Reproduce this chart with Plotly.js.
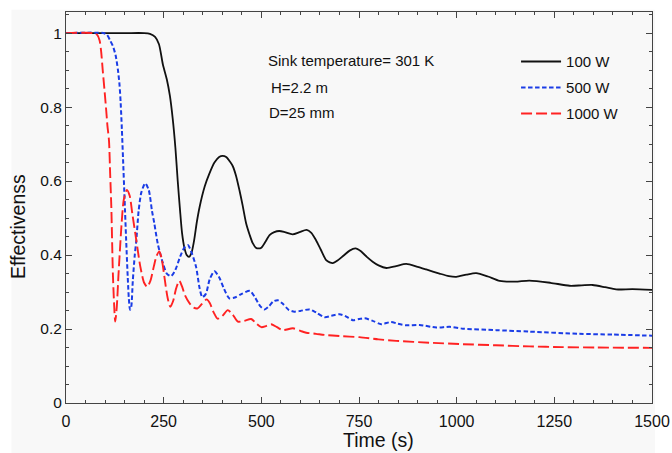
<!DOCTYPE html>
<html>
<head>
<meta charset="utf-8">
<script src="https://cdn.plot.ly/plotly-3.0.1.min.js"></script>
<style>html,body{margin:0;padding:0;background:#fff;}#chart{width:672px;height:453px;}</style>
</head>
<body>
<div id="chart"></div>
<script>
// Series names
const seriesNames = ["100 W", "500 W", "1000 W"];

// 100 W (black, solid)
const t100 = [0,150,200,215,228,238,248,258,266,273,280,286,292,297,303,309,315,321,328,335,342,355,367,380,392,401,410,420,427,435,444,452,461,470,478,486,493,500,510,521,533,546,560,580,598,616,628,640,652,666,675,683,695,710,726,741,755,770,785,800,820,845,871,900,922,956,980,999,1025,1050,1080,1110,1150,1186,1240,1289,1320,1348,1380,1408,1450,1500];
const e100 = [1,1,1,0.998,0.99,0.97,0.915,0.875,0.83,0.77,0.69,0.6,0.52,0.46,0.42,0.4,0.395,0.405,0.44,0.49,0.53,0.585,0.62,0.65,0.665,0.668,0.665,0.652,0.64,0.615,0.575,0.535,0.486,0.455,0.432,0.42,0.418,0.42,0.435,0.454,0.462,0.465,0.462,0.456,0.462,0.468,0.46,0.44,0.415,0.386,0.38,0.378,0.385,0.398,0.412,0.418,0.41,0.395,0.382,0.372,0.365,0.37,0.376,0.368,0.361,0.35,0.343,0.341,0.347,0.351,0.342,0.33,0.328,0.331,0.325,0.317,0.318,0.319,0.313,0.307,0.308,0.306];

// 500 W (blue, short dash)
const t500 = [0,95,105,113,120,127,133,137,140,143,146,150,154,158,161,164,167,171,176,180,186,193,203,212,220,226,235,248,258,269,280,292,303,312,322,333,342,349,358,368,380,392,404,418,432,450,471,484,497,508,520,530,542,555,570,585,600,623,640,662,680,700,715,734,750,765,785,807,832,850,871,905,948,982,1016,1101,1186,1314,1400,1500];
const e500 = [1,1,0.995,0.98,0.965,0.94,0.9,0.86,0.81,0.74,0.66,0.55,0.44,0.34,0.28,0.252,0.26,0.33,0.4,0.44,0.52,0.57,0.594,0.575,0.52,0.486,0.43,0.378,0.35,0.343,0.36,0.395,0.42,0.427,0.405,0.368,0.31,0.286,0.295,0.335,0.356,0.34,0.31,0.283,0.285,0.295,0.303,0.285,0.262,0.253,0.262,0.274,0.278,0.268,0.252,0.247,0.249,0.253,0.245,0.232,0.236,0.24,0.235,0.224,0.227,0.229,0.222,0.213,0.219,0.214,0.21,0.211,0.204,0.206,0.201,0.197,0.193,0.187,0.185,0.182];

// 1000 W (red, long dash)
const t1000 = [0,70,80,86,90,94,99,103,106,110,113,116,120,123,126,130,134,137,142,148,156,163,170,180,190,200,208,216,225,232,239,245,252,260,267,274,282,290,297,305,316,327,337,348,360,368,378,388,400,414,426,440,456,474,487,500,512,525,540,555,581,600,615,640,662,700,751,800,845,930,1016,1100,1186,1270,1357,1500];
const e1000 = [1,1,0.995,0.98,0.95,0.9,0.84,0.79,0.75,0.71,0.62,0.53,0.35,0.27,0.22,0.26,0.34,0.395,0.48,0.55,0.576,0.56,0.51,0.44,0.37,0.325,0.314,0.33,0.37,0.398,0.41,0.39,0.34,0.285,0.26,0.275,0.31,0.33,0.315,0.29,0.27,0.258,0.256,0.268,0.28,0.27,0.245,0.228,0.235,0.251,0.24,0.22,0.222,0.227,0.215,0.205,0.208,0.213,0.205,0.197,0.202,0.195,0.19,0.187,0.184,0.181,0.178,0.172,0.168,0.163,0.159,0.156,0.153,0.151,0.15,0.149];

// Tick labels
const xTickVals = [0,250,500,750,1000,1250,1500];
const xTickText = ["0","250","500","750","1000","1250","1500"];
const yTickVals = [0,0.2,0.4,0.6,0.8,1];
const yTickText = ["0","0.2","0.4","0.6","0.8","1"];

// Annotation texts
const noteTexts = ["Sink temperature= 301 K","H=2.2 m","D=25 mm"];

const FONT = "Liberation Sans, Arial, sans-serif";

const traces = [
  {x:t100, y:e100, name:seriesNames[0], legendgroup:"a", mode:"lines",
   line:{color:"#111111", width:1.8, shape:"spline", smoothing:0.7}},
  {x:t500, y:e500, name:seriesNames[1], legendgroup:"b", mode:"lines",
   line:{color:"#1a3ce6", width:2, dash:"4.5px,2.5px", shape:"spline", smoothing:0.7}},
  {x:t1000, y:e1000, name:seriesNames[2], legendgroup:"c", mode:"lines",
   line:{color:"#ff2222", width:1.9, dash:"11px,4px", shape:"spline", smoothing:0.7}}
];

const axisCommon = {
  showline:true, linecolor:"#444", linewidth:1, mirror:"ticks",
  ticks:"inside", ticklen:6, tickcolor:"#444", tickwidth:1,
  showgrid:false, zeroline:false
};

const layout = {
  width:672, height:453,
  margin:{l:66, r:20, t:12, b:50},
  paper_bgcolor:"#ffffff",
  plot_bgcolor:"rgba(0,0,0,0)",
  showlegend:true,
  legend:{x:0.768, y:0.915, xanchor:"left", yanchor:"top",
          bgcolor:"rgba(0,0,0,0)", font:{family:FONT, size:15, color:"#111"},
          itemwidth:40, traceorder:"grouped", tracegroupgap:3.5},
  xaxis:Object.assign({}, axisCommon, {
    range:[0,1500], tickmode:"array", tickvals:xTickVals, ticktext:xTickText,
    tickfont:{family:FONT, size:16, color:"#111"}, ticklabelstandoff:4,
    minor:{dtick:50, ticklen:3, ticks:"inside", tickcolor:"#444"},
    title:{text:""}
  }),
  yaxis:Object.assign({}, axisCommon, {
    range:[0,1.057], tickmode:"array", tickvals:yTickVals, ticktext:yTickText,
    tickfont:{family:FONT, size:15.5, color:"#111"},
    minor:{dtick:0.05, ticklen:3, ticks:"inside", tickcolor:"#444"},
    title:{text:""}
  }),
  shapes:[
    {type:"rect", xref:"paper", yref:"paper", layer:"below",
     x0:-0.093, x1:1.005, y0:-0.13, y1:1.006, fillcolor:"#f8f8f8", line:{width:0}}
  ],
  annotations:[
    {xref:"x", yref:"y", x:511, y:0.927, xanchor:"left", yanchor:"middle", showarrow:false,
     text:noteTexts[0], font:{family:FONT, size:15, color:"#111"}},
    {xref:"x", yref:"y", x:519, y:0.854, xanchor:"left", yanchor:"middle", showarrow:false,
     text:noteTexts[1], font:{family:FONT, size:15, color:"#111"}},
    {xref:"x", yref:"y", x:514, y:0.784, xanchor:"left", yanchor:"middle", showarrow:false,
     text:noteTexts[2], font:{family:FONT, size:15, color:"#111"}},
    {xref:"paper", yref:"paper", x:(378-66)/586, y:(403-440)/391, xanchor:"center", yanchor:"middle",
     showarrow:false, text:"Time (s)", font:{family:FONT, size:19.5, color:"#111"}},
    {xref:"paper", yref:"paper", x:(18-66)/586, y:(403-227)/391, xanchor:"center", yanchor:"middle",
     showarrow:false, textangle:-90, text:"Effectivenss", font:{family:FONT, size:19.5, color:"#111"}}
  ]
};

Plotly.newPlot("chart", traces, layout, {displayModeBar:false, staticPlot:true});
</script>
</body>
</html>
